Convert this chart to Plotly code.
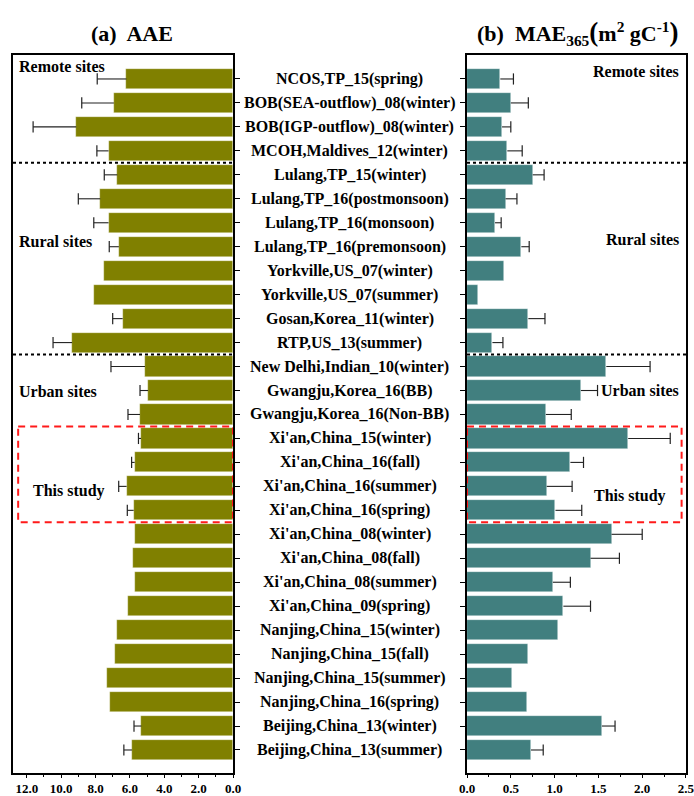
import plotly.graph_objects as go

# Sampling sites / campaigns, top to bottom
sites = [
    "NCOS,TP_15(spring)",
    "BOB(SEA-outflow)_08(winter)",
    "BOB(IGP-outflow)_08(winter)",
    "MCOH,Maldives_12(winter)",
    "Lulang,TP_15(winter)",
    "Lulang,TP_16(postmonsoon)",
    "Lulang,TP_16(monsoon)",
    "Lulang,TP_16(premonsoon)",
    "Yorkville,US_07(winter)",
    "Yorkville,US_07(summer)",
    "Gosan,Korea_11(winter)",
    "RTP,US_13(summer)",
    "New Delhi,Indian_10(winter)",
    "Gwangju,Korea_16(BB)",
    "Gwangju,Korea_16(Non-BB)",
    "Xi'an,China_15(winter)",
    "Xi'an,China_16(fall)",
    "Xi'an,China_16(summer)",
    "Xi'an,China_16(spring)",
    "Xi'an,China_08(winter)",
    "Xi'an,China_08(fall)",
    "Xi'an,China_08(summer)",
    "Xi'an,China_09(spring)",
    "Nanjing,China_15(winter)",
    "Nanjing,China_15(fall)",
    "Nanjing,China_15(summer)",
    "Nanjing,China_16(spring)",
    "Beijing,China_13(winter)",
    "Beijing,China_13(summer)",
]

# Absorption Angstrom exponent and its standard deviation (None = not reported)
aae = [6.20, 6.93, 9.12, 7.24, 6.73, 7.72, 7.24, 6.64, 7.51, 8.07, 6.42, 9.36,
       5.12, 4.94, 5.41, 5.35, 5.72, 6.19, 5.78, 5.72, 5.84, 5.73, 6.13,
       6.77, 6.89, 7.31, 7.18, 5.33, 5.88]
aae_sd = [1.70, 1.87, 2.51, 0.68, 0.76, 1.28, 0.86, 0.56, None, None, 0.58, 1.11,
          1.98, 0.47, 0.70, 0.15, 0.18, 0.46, 0.37, None, None, None, None,
          None, None, None, None, 0.43, 0.47]

# Mass absorption efficiency at 365 nm (m2 gC-1) and its standard deviation
mae365 = [0.38, 0.50, 0.40, 0.46, 0.75, 0.44, 0.32, 0.62, 0.42, 0.12, 0.70, 0.29,
          1.59, 1.30, 0.90, 1.84, 1.18, 0.91, 1.01, 1.65, 1.41, 0.98, 1.10,
          1.04, 0.70, 0.51, 0.69, 1.54, 0.73]
mae365_sd = [0.15, 0.20, 0.10, 0.17, 0.13, 0.13, 0.07, 0.09, None, None, 0.19, 0.12,
             0.50, 0.19, 0.29, 0.48, 0.15, 0.29, 0.30, 0.35, 0.33, 0.20, 0.31,
             None, None, None, None, 0.15, 0.14]

# Group boundaries (between positions) and the highlighted block of this study
group_breaks = [3.5, 11.5]
study_span = (14.5, 18.5)

pos = list(range(len(sites)))

OLIVE = "#808000"
TEAL = "#417f7f"
SERIF = "Liberation Serif"

fig = go.Figure()


def add_panel(values, sds, color, xa, ya):
    fig.add_trace(go.Bar(
        x=values, y=pos, orientation="h", width=0.84,
        marker=dict(color=color, line=dict(color="rgba(255,255,255,0.6)", width=0.6)),
        xaxis=xa, yaxis=ya, showlegend=False, hoverinfo="x+y",
    ))
    # one-sided error whiskers: bar end -> bar end + sd, cap at the far end
    ex, ey, cx, cy = [], [], [], []
    for i, (v, s) in enumerate(zip(values, sds)):
        if s is None:
            continue
        ex += [v, v + s, None]
        ey += [i, i, None]
        cx.append(v + s)
        cy.append(i)
    fig.add_trace(go.Scatter(
        x=ex, y=ey, mode="lines", line=dict(color="#222", width=1.1),
        xaxis=xa, yaxis=ya, showlegend=False, hoverinfo="skip",
    ))
    fig.add_trace(go.Scatter(
        x=cx, y=cy, mode="markers",
        marker=dict(symbol="line-ns", size=8, line=dict(color="#222", width=1.2)),
        xaxis=xa, yaxis=ya, showlegend=False, hoverinfo="skip",
    ))


add_panel(aae, aae_sd, OLIVE, "x", "y")
add_panel(mae365, mae365_sd, TEAL, "x2", "y2")

tickfont = dict(family=SERIF, size=13, color="black", weight="bold")
yrange = [28.96, -1]
L_DOM = [0, 0.3269]
R_DOM = [0.6746, 1]

fig.update_layout(
    width=694, height=796,
    margin=dict(l=13, r=8, t=55, b=23, autoexpand=False),
    plot_bgcolor="white", paper_bgcolor="white",
    bargap=0,
    xaxis=dict(
        domain=L_DOM, anchor="y", range=[12.8, 0], automargin=False,
        tickmode="array", tickvals=[0, 2, 4, 6, 8, 10, 12], tickformat=".1f",
        ticks="outside", ticklen=3, tickwidth=1.2, tickcolor="black",
        minor=dict(ticks="outside", ticklen=2, tickwidth=1, tickcolor="black", dtick=1, showgrid=False),
        showline=True, linecolor="black", linewidth=1.5, mirror=True,
        showgrid=False, zeroline=False, tickfont=tickfont, ticklabeloverflow="allow",
    ),
    yaxis=dict(
        domain=[0, 1], anchor="x", range=yrange, side="right", automargin=False,
        tickmode="array", tickvals=pos, showticklabels=False,
        ticks="outside", ticklen=5, tickwidth=1.2, tickcolor="black",
        showline=True, linecolor="black", linewidth=2, mirror=True,
        showgrid=False, zeroline=False,
    ),
    xaxis2=dict(
        domain=R_DOM, anchor="y2", range=[0, 2.5], automargin=False,
        tickmode="array", tickvals=[0, 0.5, 1.0, 1.5, 2.0, 2.5], tickformat=".1f",
        ticks="outside", ticklen=3, tickwidth=1.2, tickcolor="black",
        minor=dict(ticks="outside", ticklen=2, tickwidth=1, tickcolor="black", dtick=0.25, showgrid=False),
        showline=True, linecolor="black", linewidth=1.5, mirror=True,
        showgrid=False, zeroline=False, tickfont=tickfont, ticklabeloverflow="allow",
    ),
    yaxis2=dict(
        domain=[0, 1], anchor="x2", range=yrange, side="left", automargin=False,
        tickmode="array", tickvals=pos, showticklabels=False,
        ticks="outside", ticklen=5, tickwidth=1.2, tickcolor="black",
        showline=True, linecolor="black", linewidth=2, mirror=True,
        showgrid=False, zeroline=False,
    ),
)

# Group separators
for b in group_breaks:
    fig.add_shape(type="line", xref="x", yref="y", x0=12.8, x1=0, y0=b, y1=b,
                  line=dict(color="black", width=2, dash="3px,3px"))
    fig.add_shape(type="line", xref="x2", yref="y2", x0=0, x1=2.5, y0=b, y1=b,
                  line=dict(color="black", width=2, dash="3px,3px"))

# Highlight boxes around this study's campaigns
fig.add_shape(type="rect", xref="x", yref="y", x0=12.5, x1=0,
              y0=study_span[0], y1=study_span[1],
              line=dict(color="#ff1a1a", width=2, dash="7px,5px"))
fig.add_shape(type="rect", xref="x2", yref="y2", x0=0, x1=2.45,
              y0=study_span[0], y1=study_span[1],
              line=dict(color="#ff1a1a", width=2, dash="7px,5px"))

# Site labels between the two panels
for i, s in enumerate(sites):
    fig.add_annotation(x=0.5007, xref="paper", y=i, yref="y", text=s,
                       showarrow=False, xanchor="center", yanchor="middle",
                       font=dict(family=SERIF, size=16, color="black", weight="bold"))

gfont = dict(family=SERIF, size=16, color="black", weight="bold")
# Group labels, left panel
for txt, yv in [("Remote sites", -0.5), ("Rural sites", 6.8), ("Urban sites", 13.05)]:
    fig.add_annotation(x=0.006, xref="paper", y=yv, yref="y", text=txt, showarrow=False,
                       xanchor="left", yanchor="middle", font=gfont)
fig.add_annotation(x=0.083, xref="paper", y=17.2, yref="y", text="This study", showarrow=False,
                   xanchor="center", yanchor="middle", font=gfont)
# Group labels, right panel
for txt, yv in [("Remote sites", -0.33), ("Rural sites", 6.7), ("Urban sites", 13.0)]:
    fig.add_annotation(x=0.9926, xref="paper", y=yv, yref="y2", text=txt, showarrow=False,
                       xanchor="right", yanchor="middle", font=gfont)
fig.add_annotation(x=0.917, xref="paper", y=17.4, yref="y2", text="This study", showarrow=False,
                   xanchor="center", yanchor="middle", font=gfont)

# Panel titles
tfont = dict(family=SERIF, size=22, color="black", weight="bold")
fig.add_annotation(x=0.1768, xref="paper", y=1.0306, yref="paper", text="(a)  AAE",
                   showarrow=False, xanchor="center", yanchor="middle", font=tfont)
fig.add_annotation(
    x=0.8395, xref="paper", y=1.0306, yref="paper",
    text="(b)  MAE<sub>365</sub><span style='font-size:27px'>(</span>m<sup>2</sup> gC<sup>-1</sup><span style='font-size:27px'>)</span>",
    showarrow=False, xanchor="center", yanchor="middle", font=tfont)

fig.write_html("out.html")
